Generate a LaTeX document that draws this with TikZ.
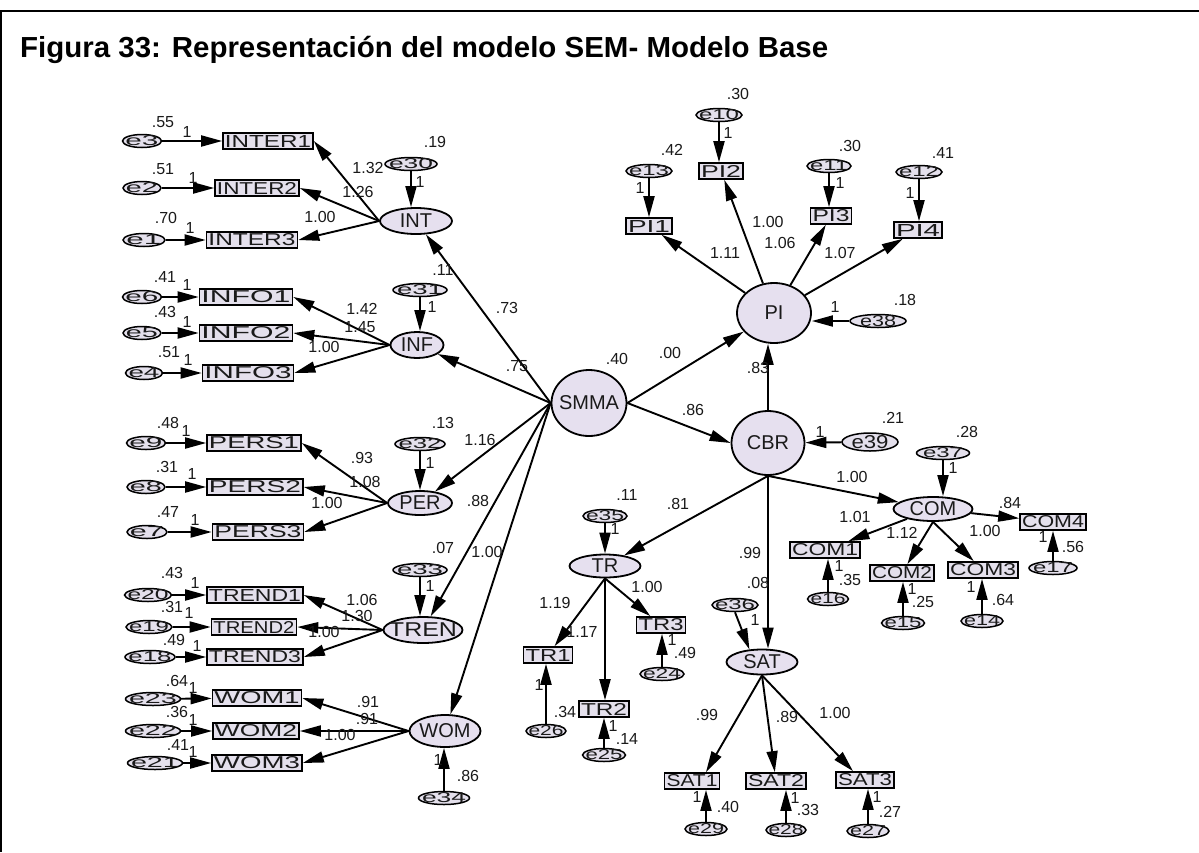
\documentclass[tikz,border=0pt]{standalone}
\usepackage{fontspec}
\setmainfont{Liberation Sans}
\usepackage{graphicx}
\usetikzlibrary{arrows.meta,shapes.geometric,calc}
\definecolor{boxfill}{HTML}{E4E0EC}
\definecolor{latfill}{HTML}{E6E0EF}
\definecolor{txtc}{HTML}{1A1A1A}
\newcommand\rt[3]{\resizebox{#1pt}{#2pt}{#3}}
\newcounter{lblc}
\newcommand\Lb[3]{\stepcounter{lblc}\node[lbl] (lb\arabic{lblc}) at (#1,#2) {#3};}
\newcommand\Err[5]{\node[err, minimum width=#4, label={[errtxt]center:\rt{#5}{10}{#1}}] (#1) at (#2,#3) {};}
\newcommand\Ind[4]{\node[ind] (#1) at (#2,#3) {\rt{#4}{12}{#1}};}
\newcommand\Lat[6]{\node[lat, minimum width=#4, minimum height=#5, label={[lattxt]center:{#6}}] (#1) at (#2,#3) {};}
\tikzset{
 err/.style={ellipse, draw, line width=1.5pt, fill=boxfill, inner sep=0, minimum height=13},
 errtxt/.style={inner sep=0, text=txtc},
 ind/.style={rectangle, draw, line width=1.6pt, fill=boxfill, inner xsep=2, inner ysep=2, text=txtc},
 lat/.style={ellipse, draw, line width=1.8pt, fill=latfill, inner sep=0},
 lattxt/.style={inner sep=0, text=txtc, font=\fontsize{20}{20}\selectfont},
 lbl/.style={inner sep=0, text=txtc, font=\fontsize{16}{16}\selectfont},
 arr/.style={line width=1.9pt, -{Triangle[length=21pt,width=11pt]}},
}
\begin{document}
\begin{tikzpicture}[x=1pt,y=-1pt]
\useasboundingbox (0,0) rectangle (1199,852);
\fill[white] (0,0) rectangle (1199,852);
\draw[line width=2pt] (0,11) -- (1199,11);
\draw[line width=2pt] (1,11) -- (1,852);
\node[anchor=base west, inner sep=0] (title) at (20,57) {\resizebox{808pt}{\height}{\fontsize{29}{32}\selectfont\bfseries Figura 33: Representación del modelo SEM- Modelo Base}};

% latent variables
\Lat{INT}{416}{221}{72}{26}{INT}
\Lat{INF}{417}{345}{53}{26}{INF}
\Lat{PER}{420}{503}{64}{24}{PER}
\Lat{TREN}{423}{630}{79}{26}{\scalebox{1.25}[1]{TREN}}
\Lat{WOM}{445}{731}{71}{32}{WOM}
\Lat{SMMA}{589}{403}{75}{66}{SMMA}
\Lat{PI}{774}{313}{74}{60}{PI}
\Lat{CBR}{768}{443}{73}{64}{CBR}
\Lat{TR}{605}{566}{71}{23}{TR}
\Lat{SAT}{762}{662}{71}{25}{SAT}
\Lat{COM}{933}{509}{79}{24}{COM}

% indicators
\Ind{INTER1}{268}{141}{86}
\Ind{INTER2}{257}{188}{80}
\Ind{INTER3}{252}{240}{87}
\Ind{INFO1}{246}{297}{89}
\Ind{INFO2}{246}{333}{89}
\Ind{INFO3}{248}{373}{87}
\Ind{PERS1}{254}{443}{90}
\Ind{PERS2}{255}{487}{92}
\Ind{PERS3}{258}{532}{87}
\Ind{TREND1}{255}{595}{92}
\Ind{TREND2}{254}{627}{81}
\Ind{TREND3}{255}{657}{92}
\Ind{WOM1}{257}{698}{85}
\Ind{WOM2}{256}{731}{82}
\Ind{WOM3}{257}{763}{86}
\Ind{PI1}{649}{226}{42}
\Ind{PI2}{721}{171}{40}
\Ind{PI3}{831}{216}{37}
\Ind{PI4}{918}{230}{44}
\Ind{TR1}{548}{655}{45}
\Ind{TR2}{604}{709}{46}
\Ind{TR3}{661}{625}{45}
\Ind{SAT1}{692}{781}{51}
\Ind{SAT2}{776}{781}{56}
\Ind{SAT3}{865}{780}{54}
\Ind{COM1}{825}{550}{66}
\Ind{COM2}{902}{573}{60}
\Ind{COM3}{983}{570}{66}
\Ind{COM4}{1053}{522}{62}

% errors
\Err{e3}{142}{141}{39}{33}
\Err{e2}{142}{188}{38}{32}
\Err{e1}{144}{240}{42}{35}
\Err{e30}{411}{164}{52}{44}
\Err{e6}{142}{297}{39}{33}
\Err{e5}{142}{333}{38}{32}
\Err{e4}{144}{373}{37}{31}
\Err{e31}{420}{290}{54}{46}
\Err{e9}{146}{443}{39}{33}
\Err{e32}{420}{444}{50}{43}
\Err{e8}{146}{487}{38}{32}
\Err{e7}{147}{532}{40}{34}
\Err{e33}{420}{570}{54}{46}
\Err{e20}{148}{595}{47}{41}
\Err{e19}{149}{627}{46}{40}
\Err{e18}{150}{657}{50}{43}
\Err{e23}{153}{699}{55}{48}
\Err{e22}{153}{731}{55}{48}
\Err{e21}{155}{763}{55}{48}
\Err{e34}{444}{798}{51}{44}
\Err{e13}{649}{171}{46}{40}
\Err{e10}{719}{115}{46}{40}
\Err{e11}{829}{166}{44}{38}
\Err{e12}{919}{172}{46}{40}
\Err{e35}{605}{516}{44}{38}
\Err{e26}{546}{731}{40}{35}
\Err{e25}{604}{755}{43}{37}
\Err{e24}{662}{674}{44}{38}
\Err{e36}{735}{605}{46}{40}
\Err{e29}{706}{829}{42}{36}
\Err{e28}{786}{830}{40}{35}
\Err{e27}{868}{831}{42}{36}
\Err{e37}{943}{453}{53}{40}
\Err{e16}{828}{599}{41}{35}
\Err{e15}{903}{623}{43}{37}
\Err{e14}{982}{621}{42}{36}
\Err{e17}{1053}{568}{48}{40}
\node[err, minimum width=56, label={[errtxt]center:\rt{36}{11}{e38}}] (e38) at (878,321) {};
\node[err, minimum width=56, minimum height=18, label={[errtxt]center:\rt{37}{13}{e39}}] (e39) at (870,442) {};

% error -> indicator (horizontal)
\foreach \a/\b in {e3/INTER1,e2/INTER2,e1/INTER3,e6/INFO1,e5/INFO2,e4/INFO3,e9/PERS1,e8/PERS2,e7/PERS3,e20/TREND1,e19/TREND2,e18/TREND3,e23/WOM1,e22/WOM2,e21/WOM3}
  \draw[arr] (\a) -- (\b);
% error above -> node below
\foreach \a/\b in {e13/PI1,e10/PI2,e11/PI3,e12/PI4,e30/INT,e31/INF,e32/PER,e33/TREN,e35/TR,e37/COM}
  \draw[arr] (\a.south) -- (\a.south |- \b.north);
% error below -> node above
\foreach \a/\b in {e26/TR1,e25/TR2,e24/TR3,e29/SAT1,e28/SAT2,e27/SAT3,e16/COM1,e15/COM2,e14/COM3,e17/COM4,e34/WOM}
  \draw[arr] (\a.north) -- (\a.north |- \b.south);
\draw[arr] (e36.south) -- (SAT.135);
\draw[arr] (e38.west) -- (e38.west -| PI.east);
\draw[arr] (e39) -- (CBR);

% latent -> indicators
\foreach \l/\i in {INT/INTER1,INT/INTER2,INT/INTER3,INF/INFO1,INF/INFO2,INF/INFO3,PER/PERS1,PER/PERS2,PER/PERS3,TREN/TREND1,TREN/TREND2,TREN/TREND3,WOM/WOM1,WOM/WOM2,WOM/WOM3}
  \draw[arr] (\l.west) -- (\i.east);
\foreach \i in {PI1,PI2,PI3,PI4}
  \draw[arr] (PI) -- (\i);
\draw[arr] (TR.south) -- (TR1);
\draw[arr] (TR.south) -- (TR.south |- TR2.north);
\draw[arr] (TR.south) -- (TR3);
\draw[arr] (SAT.south) -- ($(SAT1.north)+(14,0)$);
\draw[arr] (SAT.south) -- (SAT2);
\draw[arr] (SAT.south) -- ($(SAT3.north)+(-12,0)$);
\draw[arr] (COM) -- (COM1);
\draw[arr] (COM.south) -- (COM2);
\draw[arr] (COM.south) -- (COM3);
\draw[arr] (COM) -- (COM4);

% structural paths
\foreach \t in {INT,INF,PER,TREN,WOM}
  \draw[arr] (SMMA.west) -- (\t);
\draw[arr] (SMMA.east) -- (PI);
\draw[arr] (SMMA.east) -- (CBR.west);
\draw[arr] (CBR.north) -- (CBR.north |- PI.south);
\draw[arr] (CBR.south) -- (TR);
\draw[arr] (CBR.south) -- (CBR.south |- SAT.north);
\draw[arr] (CBR.south) -- (COM);

% labels
\Lb{163}{122}{.55}\Lb{187}{132}{1}
\Lb{163}{169}{.51}\Lb{193}{178}{1}
\Lb{166}{218}{.70}\Lb{190}{228}{1}
\Lb{435}{142}{.19}\Lb{420}{182}{1}
\Lb{368}{168}{1.32}\Lb{358}{192}{1.26}\Lb{320}{217}{1.00}
\Lb{443}{270}{.11}\Lb{507}{308}{.73}\Lb{517}{366}{.75}
\Lb{165}{277}{.41}\Lb{187}{285}{1}
\Lb{165}{312}{.43}\Lb{187}{322}{1}
\Lb{169}{352}{.51}\Lb{188}{360}{1}
\Lb{432}{307}{1}
\Lb{362}{309}{1.42}\Lb{360}{327}{1.45}\Lb{324}{347}{1.00}
\Lb{168}{423}{.48}\Lb{186}{431}{1}
\Lb{443}{423}{.13}\Lb{480}{440}{1.16}\Lb{362}{458}{.93}
\Lb{167}{467}{.31}\Lb{192}{474}{1}
\Lb{365}{482}{1.08}\Lb{327}{503}{1.00}\Lb{478}{501}{.88}\Lb{430}{463}{1}
\Lb{168}{512}{.47}\Lb{195}{520}{1}
\Lb{443}{548}{.07}\Lb{487}{552}{1.00}\Lb{430}{586}{1}
\Lb{172}{573}{.43}\Lb{195}{583}{1}
\Lb{172}{607}{.31}\Lb{189}{613}{1}
\Lb{174}{640}{.49}\Lb{197}{646}{1}
\Lb{362}{600}{1.06}\Lb{357}{616}{1.30}\Lb{324}{632}{1.00}
\Lb{177}{681}{.64}\Lb{193}{688}{1}
\Lb{177}{712}{.36}\Lb{193}{720}{1}
\Lb{178}{745}{.41}\Lb{193}{752}{1}
\Lb{368}{702}{.91}\Lb{367}{719}{.91}\Lb{340}{735}{1.00}
\Lb{438}{760}{1}\Lb{468}{776}{.86}
\Lb{617}{359}{.40}\Lb{670}{353}{.00}\Lb{693}{410}{.86}
\Lb{835}{307}{1}\Lb{905}{300}{.18}\Lb{758}{368}{.83}
\Lb{820}{432}{1}\Lb{893}{418}{.21}\Lb{852}{477}{1.00}
\Lb{672}{150}{.42}\Lb{640}{188}{1}
\Lb{738}{94}{.30}\Lb{728}{133}{1}
\Lb{850}{146}{.30}\Lb{840}{183}{1}
\Lb{943}{153}{.41}\Lb{910}{193}{1}
\Lb{725}{253}{1.11}\Lb{768}{222}{1.00}\Lb{780}{243}{1.06}\Lb{840}{253}{1.07}
\Lb{627}{495}{.11}\Lb{615}{529}{1}\Lb{678}{504}{.81}
\Lb{555}{603}{1.19}\Lb{582}{632}{1.17}\Lb{647}{587}{1.00}
\Lb{539}{685}{1}\Lb{565}{712}{.34}
\Lb{613}{726}{1}\Lb{627}{739}{.14}
\Lb{672}{640}{1}\Lb{685}{653}{.49}
\Lb{758}{583}{.08}\Lb{755}{620}{1}\Lb{750}{553}{.99}
\Lb{707}{715}{.99}\Lb{787}{717}{.89}\Lb{835}{713}{1.00}
\Lb{697}{797}{1}\Lb{728}{807}{.40}
\Lb{795}{798}{1}\Lb{808}{810}{.33}
\Lb{877}{797}{1}\Lb{890}{812}{.27}
\Lb{967}{432}{.28}\Lb{953}{468}{1}
\Lb{855}{517}{1.01}\Lb{902}{533}{1.12}\Lb{985}{531}{1.00}\Lb{1010}{503}{.84}
\Lb{839}{566}{1}\Lb{850}{580}{.35}
\Lb{912}{589}{1}\Lb{923}{602}{.25}
\Lb{971}{587}{1}\Lb{1003}{600}{.64}
\Lb{1043}{537}{1}\Lb{1073}{547}{.56}
\end{tikzpicture}
\end{document}
